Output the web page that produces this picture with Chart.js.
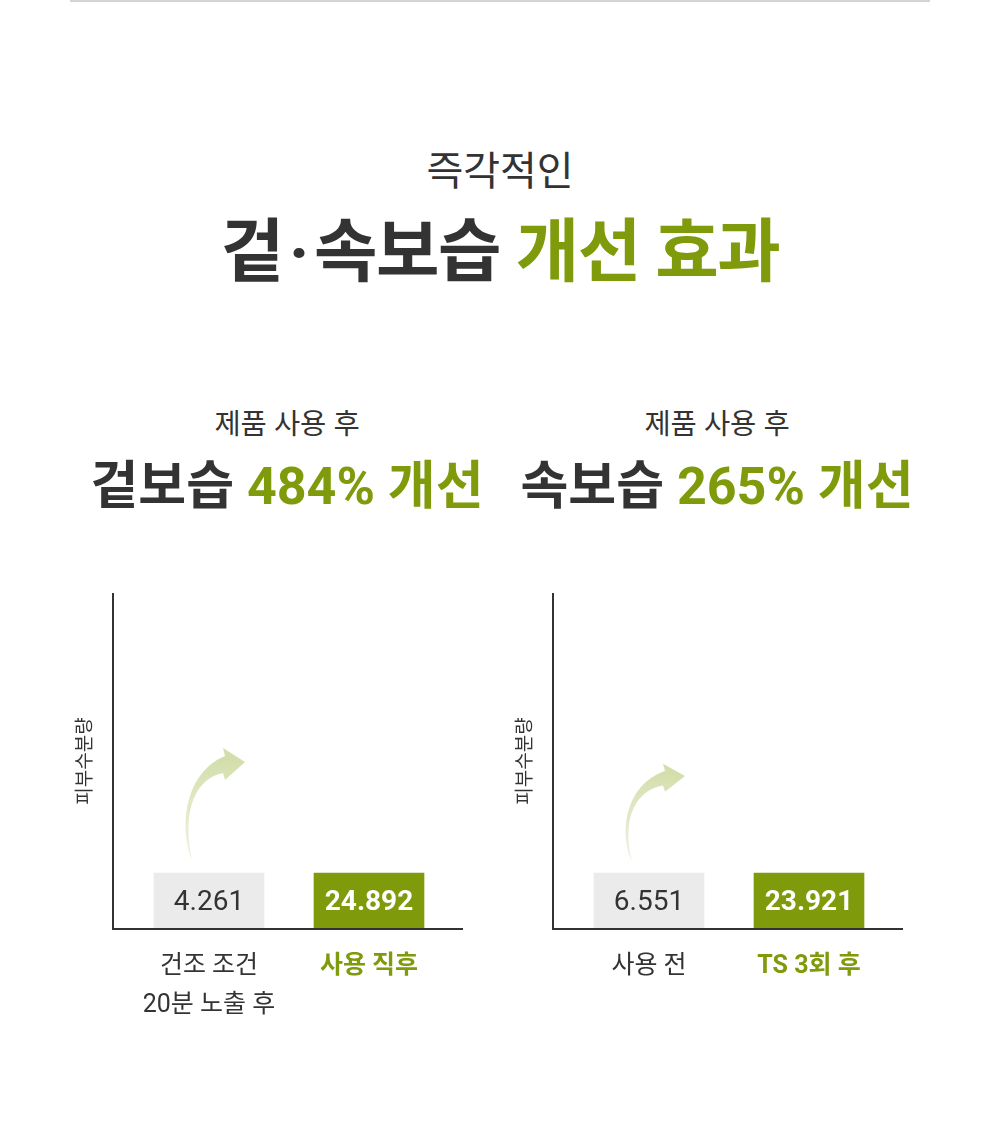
<!DOCTYPE html>
<html lang="ko">
<head>
<meta charset="utf-8">
<title>겉·속보습 개선 효과</title>
<script src="https://cdn.jsdelivr.net/npm/chart.js"></script>
<style>
  html, body { margin: 0; padding: 0; background: #fff; }
  body { width: 1000px; height: 1126px; position: relative; overflow: hidden;
         font-family: 'Roboto', 'Noto Sans CJK KR', sans-serif; color: #333; }
  .topline { position: absolute; left: 70px; top: 0; width: 860px; height: 2px; background: #d4d4d4; }
  .txt { position: absolute; text-align: center; white-space: nowrap; }
  .green { color: #7f9a0b; }
  .dot { margin: 0 6px; }
  .sub { font-size: 40px; line-height: 40px; top: 152px; left: 0; width: 1000px; }
  .title { font-size: 69px; line-height: 69px; top: 218px; left: 0; width: 1000px; font-weight: 700; letter-spacing: -1.5px; }
  .head { font-size: 28.5px; line-height: 28px; top: 411px; width: 440px; }
  .big { font-size: 52px; line-height: 52px; top: 461px; width: 440px; font-weight: 700; }
  canvas { position: absolute; top: 580px; }
</style>
</head>
<body>
<div class="topline"></div>
<div class="txt sub">즉각적인</div>
<div class="txt title">겉<span class="dot">·</span>속보습 <span class="green">개선 효과</span></div>

<div class="txt head" style="left:67px">제품 사용 후</div>
<div class="txt big" style="left:67px">겉보습 <span class="green">484%</span> <span class="green">개선</span></div>
<div class="txt head" style="left:497px">제품 사용 후</div>
<div class="txt big" style="left:497px">속보습 <span class="green">265%</span> <span class="green">개선</span></div>

<canvas id="outerChart" width="420" height="460" style="left:60px"></canvas>
<canvas id="innerChart" width="420" height="460" style="left:500px"></canvas>

<script>
"use strict";

// chart data (bars are drawn the same height in the original, values are shown as labels)
const outerLabels = [['건조 조건', '20분 노출 후'], '사용 직후'];
const outerValues = ['4.261', '24.892'];
const innerLabels = ['사용 전', 'TS 3회 후'];
const innerValues = ['6.551', '23.921'];
const barLevels = [1, 1];
const yMax = 6;

const GREEN = '#7f9a0b';
const GRAY_BAR = '#ebebeb';
const DARK = '#333333';
const FONT = "'Roboto', 'Noto Sans CJK KR', sans-serif";

// axis lines reach a little past the bars
const axisLines = {
  id: 'axisLines',
  afterDatasetsDraw: (chart) => {
    const { ctx, chartArea } = chart;
    const left = chartArea.left - 16;
    ctx.save();
    ctx.strokeStyle = DARK;
    ctx.lineWidth = 2;
    ctx.beginPath();
    ctx.moveTo(left, chartArea.top);
    ctx.lineTo(left, chartArea.bottom);
    ctx.lineTo(chartArea.right + 14, chartArea.bottom);
    ctx.stroke();
    ctx.restore();
  }
};

// value text inside the bars
const valueLabels = {
  id: 'valueLabels',
  afterDatasetsDraw: (chart, args, opts) => {
    const { ctx } = chart;
    const bars = chart.getDatasetMeta(0).data;
    ctx.save();
    ctx.textAlign = 'center';
    ctx.textBaseline = 'middle';
    bars.forEach((bar, i) => {
      ctx.font = (i === 1 ? '700 ' : '400 ') + '28px ' + FONT;
      ctx.fillStyle = i === 1 ? '#ffffff' : DARK;
      ctx.fillText(opts.values[i], bar.x, (bar.y + bar.base) / 2 + 2);
    });
    ctx.restore();
  }
};

// soft curved arrow above the first bar
const riseArrow = {
  id: 'riseArrow',
  beforeDatasetsDraw: (chart, args, opts) => {
    const bar = chart.getDatasetMeta(0).data[0];
    if (!bar) return;
    const { ctx } = chart;
    const s = opts.scaleY || 1;
    const P = (dx, dy) => [bar.x + dx, bar.y + dy * s];
    const grad = ctx.createLinearGradient(0, P(0, -13)[1], 0, P(0, -115)[1]);
    grad.addColorStop(0, 'rgba(226,234,203,0.6)');
    grad.addColorStop(1, '#d3deab');
    ctx.save();
    ctx.fillStyle = grad;
    ctx.beginPath();
    ctx.moveTo(...P(-17, -13));
    ctx.bezierCurveTo(...P(-30, -45), ...P(-25, -100), ...P(16, -117));
    ctx.lineTo(...P(14, -125));
    ctx.lineTo(...P(36, -111));
    ctx.lineTo(...P(16, -93));
    ctx.lineTo(...P(14, -100));
    ctx.bezierCurveTo(...P(-12, -95), ...P(-28, -65), ...P(-17, -13));
    ctx.closePath();
    ctx.fill();
    ctx.restore();
  }
};

const makeChart = (canvasId, labels, values, arrowScale) => {
  const ctx = document.getElementById(canvasId);
  return new Chart(ctx, {
    type: 'bar',
    data: {
      labels: labels,
      datasets: [{
        data: barLevels,
        backgroundColor: [GRAY_BAR, GREEN],
        borderWidth: 0,
        barThickness: 110
      }]
    },
    options: {
      responsive: false,
      animation: false,
      layout: { padding: { left: 15, top: 13, right: 31, bottom: 0 } },
      plugins: {
        legend: { display: false },
        tooltip: { enabled: false },
        valueLabels: { values: values },
        riseArrow: { scaleY: arrowScale }
      },
      scales: {
        x: {
          offset: true,
          grid: { display: false },
          border: { display: false },
          afterFit: (scale) => { scale.height = 111; },
          ticks: {
            padding: 10,
            maxRotation: 0,
            autoSkip: false,
            color: (c) => c.index === 1 ? GREEN : DARK,
            font: (c) => ({ family: FONT, size: 25, lineHeight: 1.56, weight: c.index === 1 ? '700' : '400' })
          }
        },
        y: {
          min: 0,
          max: yMax,
          grid: { display: false },
          border: { display: false },
          ticks: { display: false },
          afterFit: (scale) => { scale.width = 54; },
          title: {
            display: true,
            text: '피부수분량',
            color: DARK,
            padding: 0,
            font: { family: FONT, size: 19 }
          }
        }
      }
    },
    plugins: [riseArrow, axisLines, valueLabels]
  });
};

makeChart('outerChart', outerLabels, outerValues, 1);
makeChart('innerChart', innerLabels, innerValues, 0.875);
</script>
</body>
</html>
